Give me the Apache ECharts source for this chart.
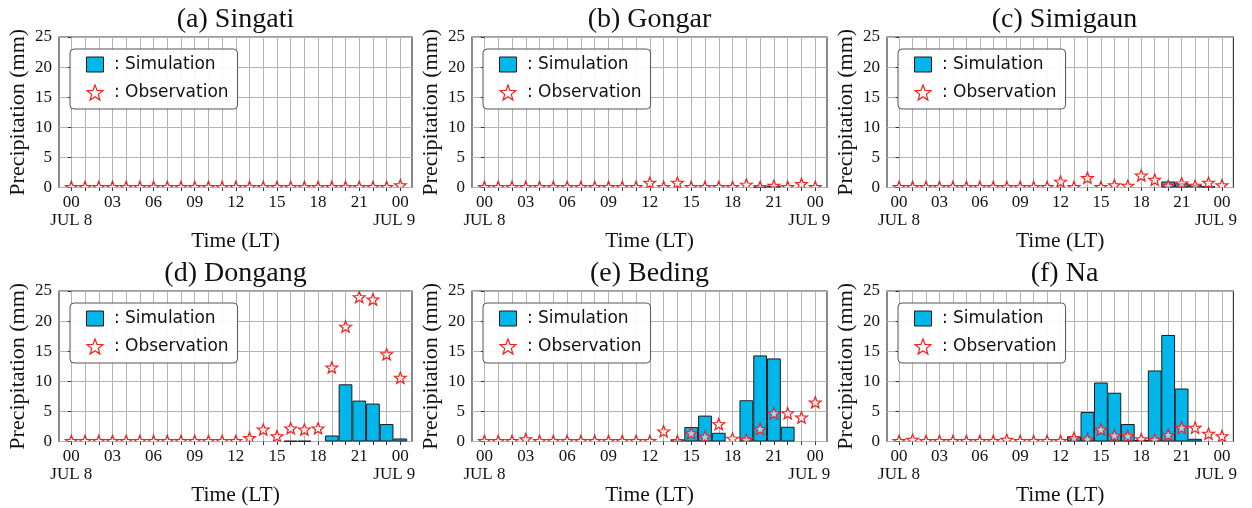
<!DOCTYPE html>
<html>
<head>
<meta charset="utf-8">
<script src="https://cdn.jsdelivr.net/npm/echarts@6/dist/echarts.min.js"></script>
<style>
  html, body { margin: 0; padding: 0; background: #fff; }
  #main { width: 1252px; height: 508px; }
</style>
</head>
<body>
<div id="main"></div>
<script>
// hourly values, JUL 8 00 LT .. JUL 9 00 LT
const hours = [0, 1, 2, 3, 4, 5, 6, 7, 8, 9, 10, 11, 12, 13, 14, 15, 16, 17, 18, 19, 20, 21, 22, 23, 24]
const labelHours = [0, 3, 6, 9, 12, 15, 18, 21, 24]
const titles = ['(a) Singati', '(b) Gongar', '(c) Simigaun', '(d) Dongang', '(e) Beding', '(f) Na']

const simSingati = [0, 0, 0, 0, 0, 0, 0, 0, 0, 0, 0, 0, 0, 0, 0, 0, 0, 0, 0, 0, 0, 0, 0, 0, 0]
const obsSingati = [0, 0, 0, 0, 0, 0, 0, 0, 0, 0, 0, 0, 0, 0, 0, 0, 0, 0, 0, 0, 0, 0, 0, 0, 0.3]

const simGongar = [0, 0, 0, 0, 0, 0, 0, 0, 0, 0, 0, 0, 0, 0, 0, 0, 0, 0, 0, 0, 0.15, 0.3, 0, 0, 0]
const obsGongar = [0, 0, 0, 0, 0, 0, 0, 0, 0, 0, 0, 0, 0.7, 0, 0.7, 0, 0, 0, 0, 0.4, 0, 0.2, 0, 0.5, 0]

const simSimigaun = [0, 0, 0, 0, 0, 0, 0, 0, 0, 0, 0, 0, 0, 0, 0, 0, 0, 0, 0, 0, 1.0, 0.7, 0.4, 0.2, 0]
const obsSimigaun = [0, 0, 0, 0, 0, 0, 0, 0, 0, 0, 0, 0, 0.9, 0, 1.5, 0, 0.3, 0.2, 1.9, 1.2, 0.2, 0.6, 0.2, 0.7, 0.3]

const simDongang = [0, 0, 0, 0, 0, 0, 0, 0, 0, 0, 0, 0, 0, 0, 0, 0, 0.1, 0.1, 0, 1.0, 9.5, 6.8, 6.3, 2.9, 0.5]
const obsDongang = [0, 0, 0, 0, 0, 0, 0, 0, 0, 0, 0, 0, 0, 0.5, 1.9, 0.8, 2.1, 1.9, 2.1, 12.2, 19.0, 23.9, 23.5, 14.4, 10.5]

const simBeding = [0, 0, 0, 0, 0, 0, 0, 0, 0, 0, 0, 0, 0, 0, 0.3, 2.4, 4.3, 1.45, 0, 6.85, 14.3, 13.8, 2.45, 0, 0]
const obsBeding = [0, 0, 0, 0.3, 0, 0, 0, 0, 0, 0, 0, 0, 0, 1.6, 0, 1.3, 0.7, 2.8, 0.4, 0.2, 2.0, 4.6, 4.6, 3.9, 6.4]

const simNa = [0, 0, 0, 0, 0, 0, 0, 0, 0, 0, 0, 0, 0, 0.8, 4.9, 9.8, 8.1, 2.9, 0.25, 11.8, 17.7, 8.8, 0.45, 0, 0]
const obsNa = [0, 0.2, 0, 0, 0, 0, 0, 0, 0.2, 0, 0, 0, 0, 0.5, 0.3, 1.9, 0.9, 0.8, 0.3, 0.2, 1.0, 2.2, 2.2, 1.2, 0.8]

const simAll = [simSingati, simGongar, simSimigaun, simDongang, simBeding, simNa]
const obsAll = [obsSingati, obsGongar, obsSimigaun, obsDongang, obsBeding, obsNa]

const serif = 'Liberation Serif'
const sans = 'DejaVu Sans'
const barColor = '#00b6ea'
const starRed = '#ff1a1a'

// unit 5-point star, pointing up
const starInner = 0.42
const starUnit = []
for (let k = 0; k < 10; k++) {
  const r = k % 2 === 0 ? 1 : starInner
  const a = -Math.PI / 2 + k * Math.PI / 5
  starUnit.push([r * Math.cos(a), r * Math.sin(a)])
}
const starPath = 'path://M' + starUnit.map(p => (p[0] * 50 + 50).toFixed(2) + ' ' + (p[1] * 50 + 50).toFixed(2)).join(' L') + ' Z'
const starR = 6.2

const xMin = -0.9
const xMax = 24.85
const lefts = [59, 472, 887]
const widths = [353, 355, 355]
const tops = [37, 291]
const plotH = 150.5

function pad2 (v) {
  return (v % 24 < 10 ? '0' : '') + (v % 24)
}

const grid = []
const xAxis = []
const yAxis = []
const series = []
const title = []
const legend = []

for (let i = 0; i < 6; i++) {
  const col = i % 3
  const row = Math.floor(i / 3)
  const left = lefts[col]
  const top = tops[row]
  grid.push({
    left: left, top: top, width: widths[col], height: plotH,
    show: true, backgroundColor: '#fff', borderColor: '#3a3a3a', borderWidth: 1.2
  })
  title.push({
    text: titles[i],
    left: left + widths[col] / 2,
    top: top - 31,
    textAlign: 'center',
    padding: 0,
    textStyle: { fontFamily: serif, fontSize: 28, fontWeight: 'normal', color: '#111' }
  })
  xAxis.push({
    type: 'value', gridIndex: i, min: xMin, max: xMax,
    name: 'Time (LT)', nameLocation: 'middle', nameGap: 43,
    nameTextStyle: { fontFamily: serif, fontSize: 21.5, color: '#111' },
    axisLine: { show: false },
    axisTick: { show: true, length: 3.5, lineStyle: { color: '#333' }, customValues: hours },
    splitLine: { show: true, lineStyle: { color: '#b4b4b4', width: 1 } },
    axisLabel: {
      customValues: labelHours,
      margin: 6,
      fontFamily: serif, fontSize: 17, color: '#111', lineHeight: 18,
      formatter: function (v) {
        if (v === 0) return '00\nJUL 8'
        if (v === 24) return '{a|00}\n{b|JUL 9}'
        return pad2(v)
      },
      rich: {
        a: { fontFamily: serif, fontSize: 17, color: '#111', lineHeight: 18 },
        b: { fontFamily: serif, fontSize: 17, color: '#111', lineHeight: 18, padding: [0, 12, 0, 0] }
      }
    }
  })
  yAxis.push({
    type: 'value', gridIndex: i, min: 0, max: 25, interval: 5,
    name: 'Precipitation (mm)', nameLocation: 'middle', nameGap: 30,
    nameTextStyle: { fontFamily: serif, fontSize: 22, color: '#111' },
    axisLine: { show: false },
    axisTick: { show: true, length: 3.5, lineStyle: { color: '#333' } },
    splitLine: { show: true, lineStyle: { color: '#b4b4b4', width: 1 } },
    axisLabel: { margin: 7, fontFamily: serif, fontSize: 17, color: '#111' }
  })
  series.push({
    name: 'Simulation',
    type: 'bar',
    xAxisIndex: i, yAxisIndex: i,
    // one hour wide, so neighbouring bars touch
    barWidth: widths[col] / (xMax - xMin),
    itemStyle: { color: barColor, borderColor: '#1c1c1c', borderWidth: 1 },
    data: hours.map((h, k) => [h, simAll[i][k] > 0 ? simAll[i][k] : null]),
    z: 3
  })
  series.push({
    name: 'Observation',
    type: 'custom',
    xAxisIndex: i, yAxisIndex: i,
    clip: true,
    encode: { x: 0, y: 1 },
    itemStyle: { color: 'rgba(255,255,255,0.55)', borderColor: starRed, borderWidth: 1.2 },
    renderItem: function (params, api) {
      const c = api.coord([api.value(0), api.value(1)])
      return {
        type: 'polygon',
        shape: { points: starUnit.map(p => [c[0] + p[0] * starR, c[1] + p[1] * starR]) },
        style: { fill: 'rgba(255,255,255,0.55)', stroke: starRed, lineWidth: 1.2 }
      }
    },
    data: hours.map((h, k) => [h, obsAll[i][k]]),
    z: 4
  })
  legend.push({
    left: left + 11, top: top + 12,
    orient: 'vertical',
    padding: [7, 9, 8, 16],
    itemGap: 11,
    itemWidth: 17, itemHeight: 15,
    backgroundColor: 'rgba(255,255,255,0.9)',
    borderColor: '#555', borderWidth: 1, borderRadius: 4,
    selectedMode: false,
    formatter: name => ' : ' + name,
    textStyle: { fontFamily: sans, fontSize: 17, color: '#111', lineHeight: 16 },
    data: [
      { name: 'Simulation', icon: 'rect', itemStyle: { color: barColor, borderColor: '#1c1c1c', borderWidth: 1 } },
      { name: 'Observation', icon: starPath, itemStyle: { color: '#fff', borderColor: starRed, borderWidth: 1.2 } }
    ]
  })
}

const myChart = echarts.init(document.getElementById('main'), null, { renderer: 'canvas' })
myChart.setOption({
  backgroundColor: '#fff',
  animation: false,
  title: title,
  legend: legend,
  grid: grid,
  xAxis: xAxis,
  yAxis: yAxis,
  series: series
})
</script>
</body>
</html>
